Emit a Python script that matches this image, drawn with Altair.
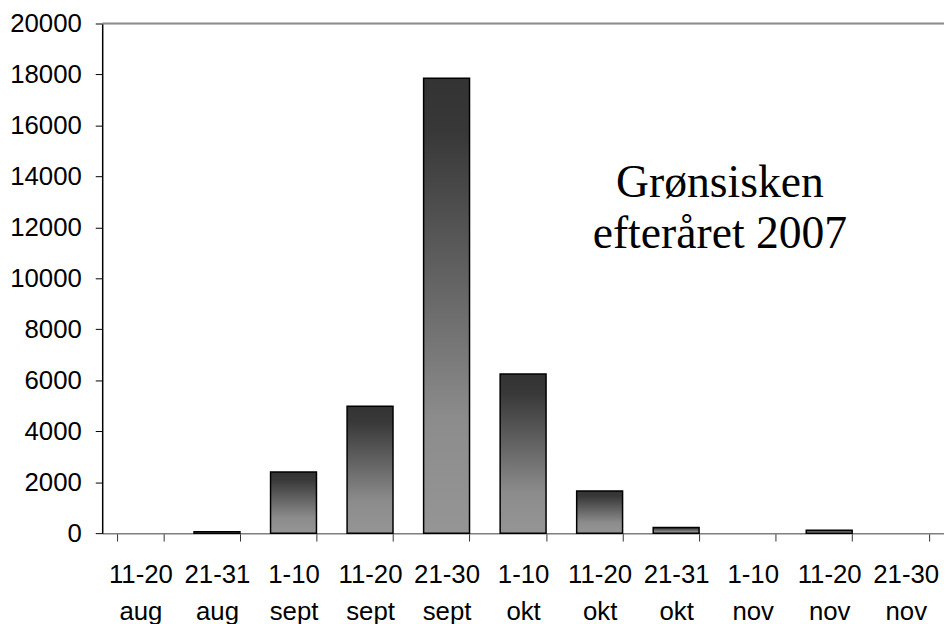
import altair as alt
import pandas as pd

periods = ["11-20", "21-31", "1-10", "11-20", "21-30", "1-10", "11-20", "21-31", "1-10", "11-20", "21-30"]
months = ["aug", "aug", "sept", "sept", "sept", "okt", "okt", "okt", "nov", "nov", "nov"]
counts = [0, 60, 2400, 4980, 17850, 6250, 1650, 220, 0, 110, 0]
title_lines = ["Grønsisken", "efteråret 2007"]

labels = [f"{p}|{m}" for p, m in zip(periods, months)]
df = pd.DataFrame({"periode": labels, "antal": counts})

gradient = alt.Gradient(
    gradient="linear",
    x1=0, y1=0, x2=0, y2=1,
    stops=[
        alt.GradientStop(color="#333333", offset=0),
        alt.GradientStop(color="#383838", offset=0.12),
        alt.GradientStop(color="#8c8c8c", offset=0.75),
        alt.GradientStop(color="#959595", offset=1),
    ],
)

x_enc = alt.X(
    "periode:N",
    sort=labels,
    scale=alt.Scale(paddingInner=0.4, paddingOuter=0.2),
    axis=alt.Axis(
        title=None,
        labelExpr="split(datum.label, '|')",
        labelAngle=0,
        labelFont="Liberation Sans",
        labelFontSize=26,
        labelColor="#000000",
        labelLineHeight=37,
        labelPadding=21,
        labelBaseline="top",
        tickBand="extent",
        tickSize=8,
        tickColor="#333333",
        domainColor="#808080",
        domainWidth=1.5,
        grid=False,
    ),
)

y_enc = alt.Y(
    "antal:Q",
    scale=alt.Scale(domain=[0, 20000], nice=False),
    axis=alt.Axis(
        title=None,
        values=list(range(0, 20001, 2000)),
        format="d",
        labelFont="Liberation Sans",
        labelFontSize=26,
        labelColor="#000000",
        labelPadding=14,
        tickSize=7,
        tickColor="#000000",
        domainColor="#000000",
        domainWidth=1.5,
        grid=False,
    ),
)

bars = alt.Chart(df).mark_bar(
    color=gradient, stroke="#000000", strokeWidth=1.5
).encode(
    x=x_enc,
    y=y_enc,
    strokeOpacity=alt.condition("datum.antal > 0", alt.value(1), alt.value(0)),
)

top_line = alt.Chart(pd.DataFrame({"v": [20000]})).mark_rule(
    color="#8c8c8c", strokeWidth=2
).encode(y=alt.Y("v:Q"))

title_df = pd.DataFrame({"t": ["\n".join(title_lines)]})
title = alt.Chart(title_df).mark_text(
    font="Liberation Serif",
    fontSize=46,
    align="center",
    baseline="alphabetic",
    lineBreak="\n",
    lineHeight=51,
    color="#000000",
).encode(x=alt.value(623), y=alt.value(175), text="t:N")

chart = (
    alt.layer(bars, top_line, title)
    .properties(
        width=849,
        height=514,
        autosize=alt.AutoSizeParams(type="none"),
        padding={"left": 95, "top": 13, "right": 0, "bottom": 90},
    )
    .configure_view(stroke=None)
    .configure(background="#ffffff")
)

chart.save("out.html", embed_options={"renderer": "svg", "actions": False})
